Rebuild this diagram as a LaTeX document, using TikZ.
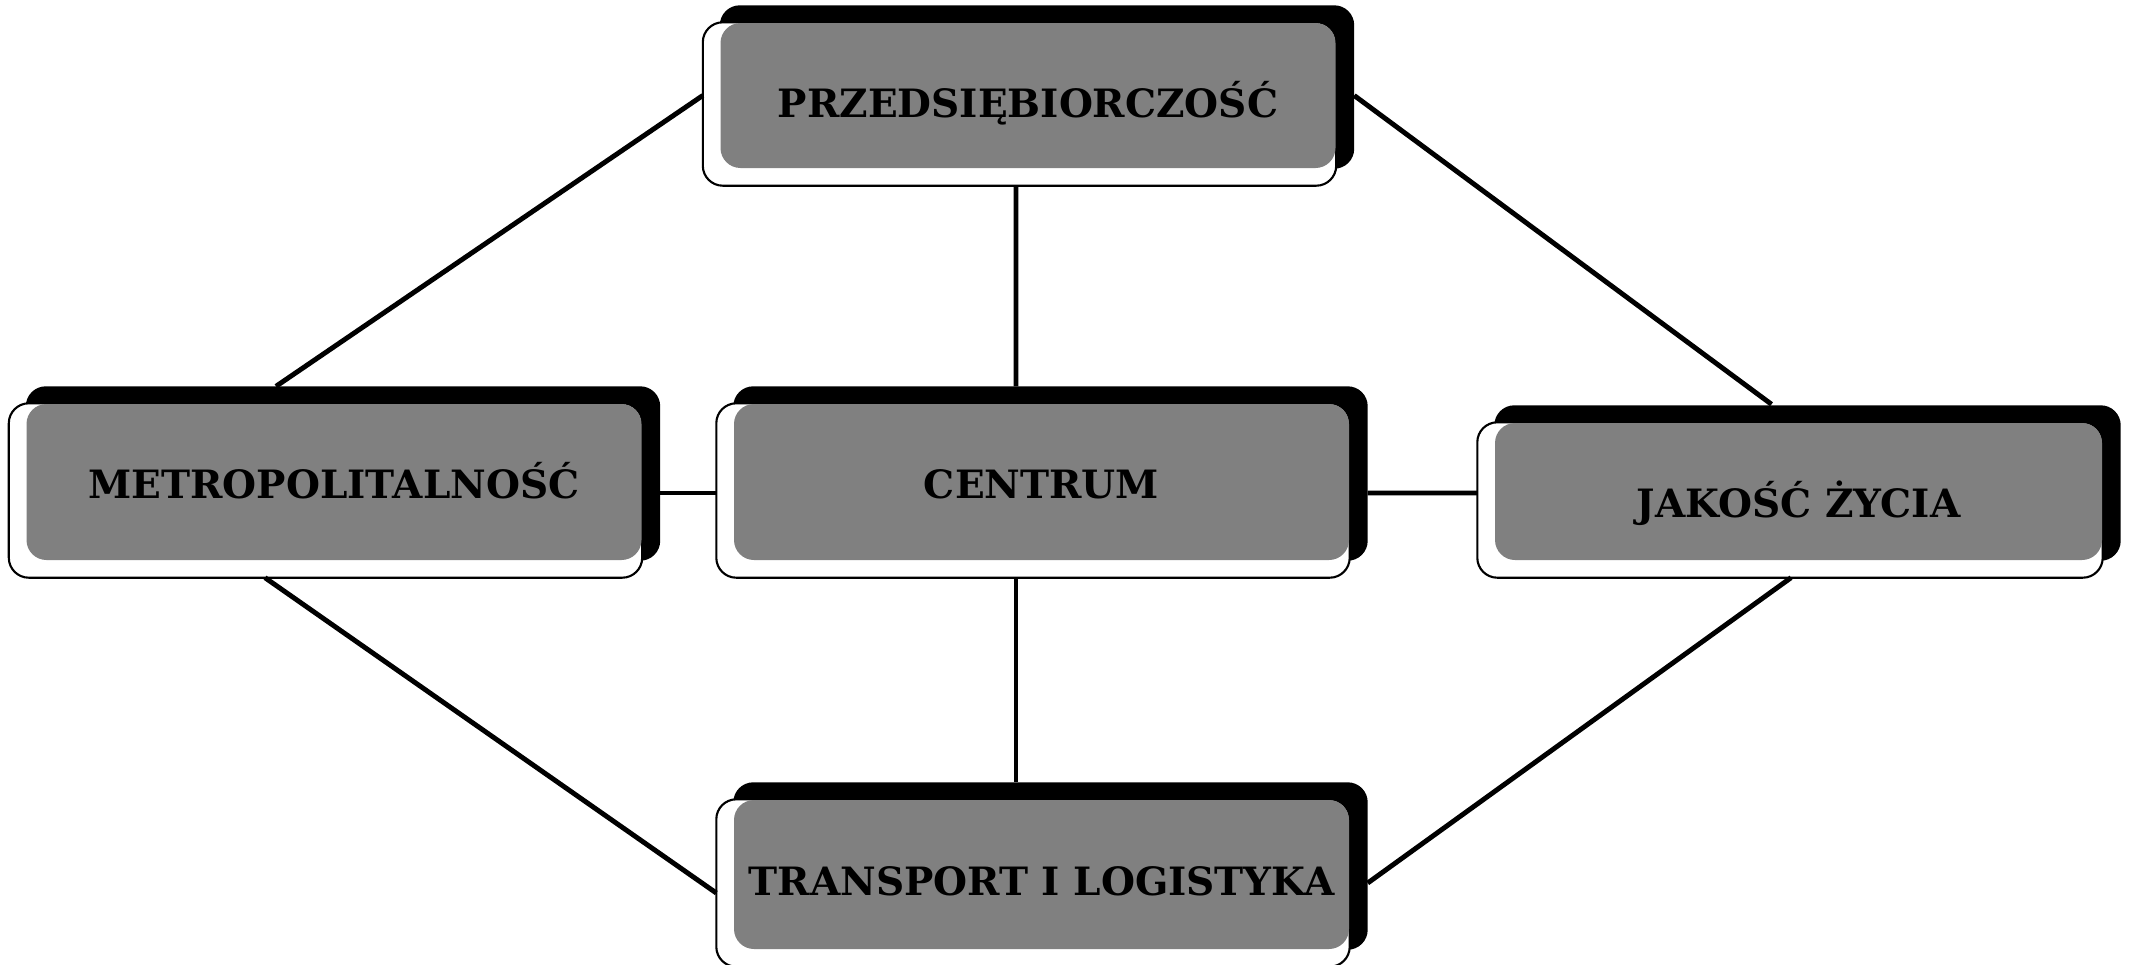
\documentclass[tikz,border=0pt]{standalone}
\usepackage{fontspec}
\setmainfont{DejaVu Serif}
\usetikzlibrary{backgrounds}
\tikzset{
  kafel/.style={fill=black!50, rounded corners=0.2cm, inner sep=0pt, minimum width=6.15cm, text depth=0pt, font=\bfseries\fontsize{11.1}{13}\selectfont},
  cien/.style={fill=black, rounded corners=0.2cm},
  ramka/.style={draw=black, fill=white, line width=0.6pt, rounded corners=0.2cm},
  linia/.style={line width=1.4pt},
}
\begin{document}
\begin{tikzpicture}
\useasboundingbox (0,0) rectangle (21.31,-9.64);
% kafelki
\node[kafel, minimum height=1.45cm, text height=12.4pt] (prz) at (10.28,-0.955) {PRZEDSIĘBIORCZOŚĆ};
\node[kafel, minimum height=1.56cm, text height=9.2pt] (metro) at (3.34,-4.82) {METROPOLITALNOŚĆ};
\node[kafel, minimum height=1.56cm, text height=9.2pt] (centrum) at (10.415,-4.82) {CENTRUM};
\node[kafel, minimum width=6.07cm, minimum height=1.37cm, text height=14.6pt] (jakosc) at (17.985,-4.915) {JAKOŚĆ ŻYCIA};
\node[kafel, minimum height=1.49cm, text height=11.8pt] (transport) at (10.415,-8.745) {TRANSPORT I LOGISTYKA};
% cien i ramka pod spodem
\begin{pgfonlayer}{background}
\foreach \n in {prz,metro,centrum,jakosc,transport}{
  \fill[cien] ([yshift=0.17cm]\n.north west) rectangle ([xshift=0.18cm]\n.south east);
  \draw[ramka] ([xshift=-0.17cm]\n.north west) rectangle ([yshift=-0.17cm]\n.south east);
}
\end{pgfonlayer}
% polaczenia
\draw[linia] ([xshift=-0.17cm]prz.west) -- ([xshift=-0.58cm,yshift=0.17cm]metro.north);
\draw[linia] ([xshift=0.18cm]prz.east) -- ([xshift=-0.27cm,yshift=0.18cm]jakosc.north);
\draw[linia] ([xshift=-0.12cm,yshift=-0.17cm]prz.south) -- ([xshift=-0.255cm,yshift=0.17cm]centrum.north);
\draw[linia] ([xshift=-0.255cm,yshift=-0.17cm]centrum.south) -- ([xshift=-0.255cm,yshift=0.17cm]transport.north);
\draw[linia] ([xshift=0.18cm,yshift=-0.11cm]metro.east) -- ([xshift=-0.17cm,yshift=-0.11cm]centrum.west);
\draw[linia] ([xshift=0.18cm,yshift=-0.11cm]centrum.east) -- ([xshift=-0.17cm,yshift=-0.015cm]jakosc.west);
\draw[linia] ([xshift=-0.69cm,yshift=-0.17cm]metro.south) -- ([xshift=-0.17cm,yshift=-0.185cm]transport.west);
\draw[linia] ([xshift=-0.075cm,yshift=-0.17cm]jakosc.south) -- ([xshift=0.18cm,yshift=-0.085cm]transport.east);
\end{tikzpicture}
\end{document}
